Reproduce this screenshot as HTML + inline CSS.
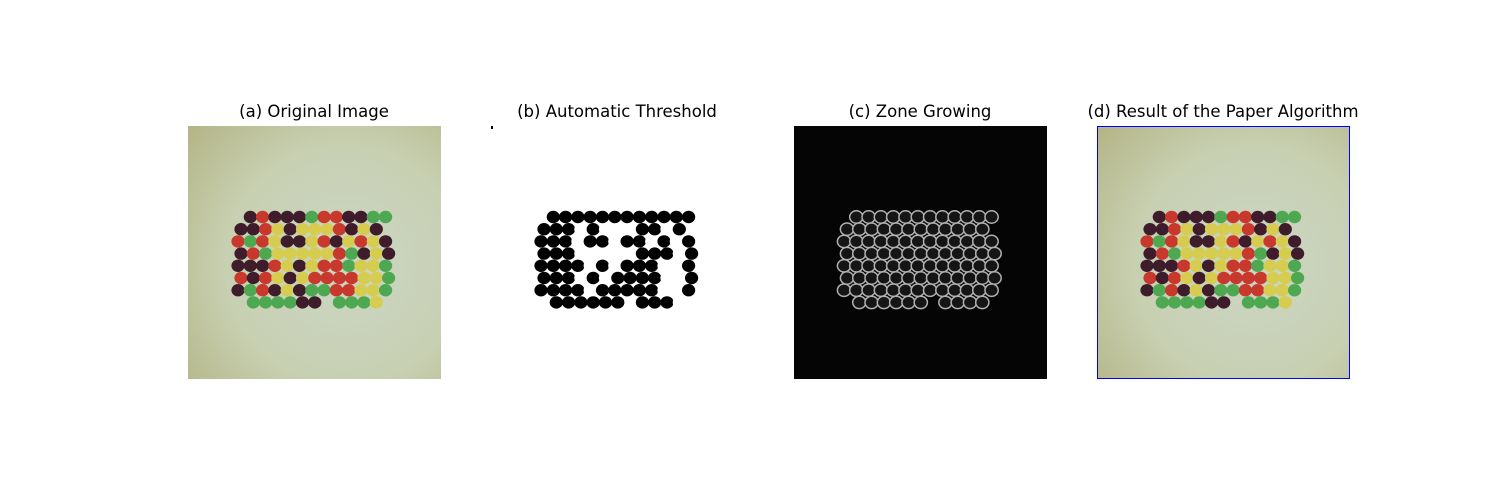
<!DOCTYPE html>
<html><head><meta charset="utf-8"><style>
body{margin:0;background:#fff;width:1500px;height:500px;overflow:hidden;font-family:"DejaVu Sans","Liberation Sans",sans-serif}
.t{position:absolute;top:102px;font-size:16.5px;color:#000;transform:translateX(-50%);white-space:nowrap}
svg{position:absolute;top:0;left:0}
</style></head><body>
<div class="t" style="left:314px">(a) Original Image</div>
<div class="t" style="left:617px">(b) Automatic Threshold</div>
<div class="t" style="left:920px">(c) Zone Growing</div>
<div class="t" style="left:1223px">(d) Result of the Paper Algorithm</div>
<svg id="s" width="1500" height="500">
<defs>
<radialGradient id="bg" cx="0.62" cy="0.55" r="0.85">
<stop offset="0" stop-color="#cbd6c4"/><stop offset="0.55" stop-color="#c8d0b2"/><stop offset="1" stop-color="#b2b382"/>
</radialGradient>
</defs>
<rect x="188" y="126" width="253" height="253" fill="url(#bg)"/>
<rect x="491" y="126" width="2" height="3" fill="#000"/>
<rect x="794" y="126" width="253" height="253" fill="#050505"/>
<rect x="1097.5" y="126.5" width="252" height="252" fill="url(#bg)" stroke="#0000ff" stroke-width="1"/>
<g id="ga"></g><g id="gb"></g><g id="gc"></g><g id="gd"></g>
</svg>
<script>
const rows = [
".prpppgrrppgg",
"pprypyyyrpyp.",
"rgryppyrpyryp",
"prgyyyyyrgpyp",
"ppprypyrrgyyg",
"rprypyrrrryyg",
"pgrpypggrryyg",
".ggggpp.gggy."
];
const colors = {r:"#c8382c",p:"#3e1c2c",y:"#d6cc50",g:"#4ea852"};
const NS="http://www.w3.org/2000/svg";
function bean(g,cx,cy,fill,stroke){
  const e=document.createElementNS(NS,"ellipse");
  e.setAttribute("cx",cx);e.setAttribute("cy",cy);e.setAttribute("rx",6.6);e.setAttribute("ry",6.2);
  e.setAttribute("fill",fill);
  if(stroke){e.setAttribute("stroke",stroke);e.setAttribute("stroke-width",1.5);}
  
  
  g.appendChild(e);
}
function draw(id,ox,mode){
  const g=document.getElementById(id);
  rows.forEach((row,j)=>{
    [...row].forEach((c,i)=>{
      if(c===".")return;
      const cx=ox+50+i*12.3+(j%2?3:0), cy=217+j*12.2;
      if(mode==="color") bean(g,cx,cy,colors[c]);
      else if(mode==="bw") bean(g,cx,cy,c==="y"?"#fff":"#000");
      else bean(g,cx,cy,"#151515","#b0b0b0");
    });
  });
}
draw("ga",188,"color");
draw("gb",491,"bw");
draw("gc",794,"edge");
draw("gd",1097,"color");
</script>
</body></html>
